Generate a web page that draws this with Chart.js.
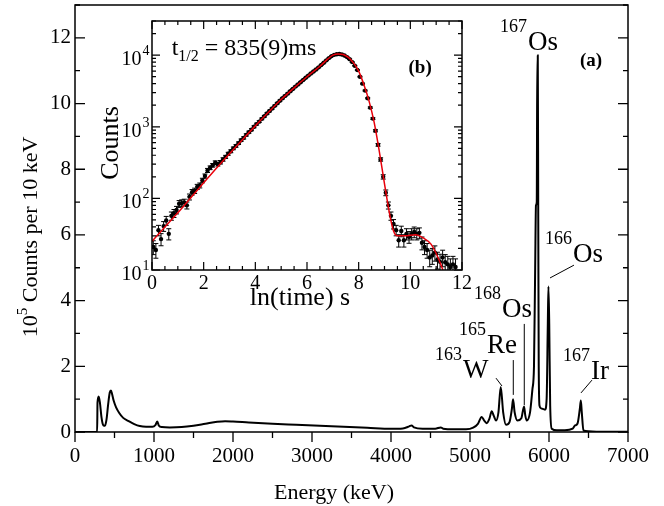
<!DOCTYPE html>
<html>
<head>
<meta charset="utf-8">
<script src="https://cdn.jsdelivr.net/npm/chart.js@4/dist/chart.umd.min.js"></script>
<style>
  html, body { margin: 0; padding: 0; background: #fff; }
  #wrap { position: relative; width: 664px; height: 506px; }
  #wrap canvas { position: absolute; left: 0; top: 0; }
</style>
</head>
<body>
<div id="wrap">
  <canvas id="spectrum" width="664" height="506"></canvas>
  <canvas id="decay" width="664" height="506"></canvas>
</div>
<script>
const SERIF = '"Liberation Serif", "Times New Roman", serif';

// Gamma spectrum: energy (keV) vs counts (1e5 per 10 keV)
const energyKeV = [0, 280, 285, 300, 315, 335, 350, 365, 380, 400, 420, 440, 455, 470, 490, 520, 560, 610, 680, 750,
  820, 900, 980, 1020, 1042, 1060, 1100, 1200, 1350, 1500, 1650, 1800, 1900, 2000, 2200, 2500, 2800, 3100, 3400, 3700,
  4000, 4150, 4230, 4260, 4290, 4400, 4560, 4630, 4660, 4800, 4950, 5040, 5100, 5148, 5180, 5211, 5245, 5275, 5300, 5330,
  5360, 5389, 5420, 5456, 5500, 5530, 5545, 5565, 5600, 5650, 5684, 5700, 5718, 5760, 5790, 5810, 5825, 5835, 5845, 5852,
  5858, 5864, 5870, 5880, 5900, 5950, 5970, 5985, 5993, 6003, 6015, 6035, 6100, 6200, 6300, 6330, 6360, 6390, 6403, 6415,
  6436, 6500, 6600, 7000];
const countsE5 = [0, 0, 0.9, 1.08, 0.9, 0.45, 0.25, 0.19, 0.2, 0.4, 0.85, 1.2, 1.26, 1.15, 0.95, 0.75, 0.58, 0.43, 0.33, 0.24,
  0.18, 0.16, 0.16, 0.22, 0.32, 0.2, 0.15, 0.14, 0.15, 0.19, 0.25, 0.31, 0.33, 0.32, 0.29, 0.25, 0.22, 0.19, 0.16, 0.13,
  0.1, 0.11, 0.17, 0.2, 0.14, 0.1, 0.1, 0.14, 0.1, 0.08, 0.08, 0.13, 0.25, 0.46, 0.35, 0.27, 0.4, 0.63, 0.5, 0.35,
  0.6, 1.37, 0.6, 0.22, 0.3, 0.7, 1.0, 0.6, 0.35, 0.42, 0.78, 0.5, 0.35, 0.6, 1.3, 2.0, 5.0, 6.9, 7.0, 11.46,
  11.46, 6.5, 2.0, 0.8, 0.72, 0.68, 1.0, 3.3, 4.43, 3.3, 0.8, 0.1, 0.05, 0.05, 0.1, 0.2, 0.25, 0.7, 0.96, 0.6,
  0.05, 0.02, 0.01, 0.01];
const energyTicks = [0, 1000, 2000, 3000, 4000, 5000, 6000, 7000];
const countTicks = [0, 2, 4, 6, 8, 10, 12];

// Peak labels: mass number, element, and where the element symbol sits (keV, 1e5 counts)
const peakMass = ['167', '166', '168', '165', '163', '167'];
const peakSymbol = ['Os', 'Os', 'Os', 'Re', 'W', 'Ir'];
const peakLabelE = [5734, 6304, 5405, 5215, 4911, 6532];
const peakLabelV = [11.63, 5.18, 3.50, 2.41, 1.64, 1.61];
// Leader lines from a label down to its peak: [E1, V1, E2, V2]
const leaderLines = [
  [6316, 5.08, 6013, 4.69],
  [5687, 3.29, 5687, 0.82],
  [5548, 2.19, 5548, 1.13],
  [5329, 1.64, 5405, 1.40],
  [6544, 1.58, 6405, 1.19]
];

// Decay curve: ln(time) bins, counts and their errors
const lnTime = [0.05, 0.15, 0.25, 0.35, 0.45, 0.55, 0.65, 0.75, 0.85, 0.95, 1.05, 1.15, 1.25, 1.35, 1.45, 1.55, 1.65, 1.75, 1.85, 1.95,
  2.05, 2.15, 2.25, 2.35, 2.45, 2.55, 2.65, 2.75, 2.85, 2.95, 3.05, 3.15, 3.25, 3.35, 3.45, 3.55, 3.65, 3.75, 3.85, 3.95,
  4.05, 4.15, 4.25, 4.35, 4.45, 4.55, 4.65, 4.75, 4.85, 4.95, 5.05, 5.15, 5.25, 5.35, 5.45, 5.55, 5.65, 5.75, 5.85, 5.95,
  6.05, 6.15, 6.25, 6.35, 6.45, 6.55, 6.65, 6.75, 6.85, 6.95, 7.05, 7.15, 7.25, 7.35, 7.45, 7.55, 7.65, 7.75, 7.85, 7.95,
  8.05, 8.15, 8.25, 8.35, 8.45, 8.55, 8.65, 8.75, 8.85, 8.95, 9.05, 9.15, 9.25, 9.35, 9.45, 9.55, 9.65, 9.75, 9.85, 9.95,
  10.05, 10.15, 10.25, 10.35, 10.45, 10.55, 10.65, 10.75, 10.85, 10.95, 11.05, 11.15, 11.25, 11.35, 11.45, 11.55, 11.65, 11.75];
const decayCounts = [21, 19, 36, 27, 41, 49, 32, 57, 62, 69, 84, 86, 88, 80, 105, 122, 128, 145, 152, 178,
  205, 246, 268, 290, 316, 300, 320, 350, 380, 420, 455, 500, 540, 590, 650, 700, 770, 840, 910, 1000,
  1090, 1180, 1290, 1400, 1530, 1660, 1800, 1960, 2130, 2310, 2500, 2700, 2900, 3130, 3370, 3640, 3900, 4190, 4500, 4830,
  5180, 5540, 5920, 6320, 6760, 7280, 7850, 8470, 9100, 9700, 10100, 10300, 10400, 10200, 9900, 9400, 8800, 8000, 7100, 6200,
  5000, 4000, 3200, 2500, 1850, 1300, 880, 560, 350, 200, 120, 80, 57, 44, 36, 26, 35, 26, 32, 29,
  32, 34, 32, 33, 24, 21, 19, 15, 16, 17.5, 14, 13, 15, 12.8, 12, 11, 12, 11];
const decayErr = [4.6, 4.4, 6, 5.2, 6.4, 7, 5.7, 7.5, 7.9, 8.3, 9.2, 9.3, 9.4, 8.9, 10, 11, 11, 12, 12, 13,
  14, 16, 16, 17, 18, 17, 18, 19, 19, 20, 21, 22, 23, 24, 25, 26, 28, 29, 30, 32,
  33, 34, 36, 37, 39, 41, 42, 44, 46, 48, 50, 52, 54, 56, 58, 60, 62, 65, 67, 69,
  72, 74, 77, 79, 82, 85, 89, 92, 95, 98, 100, 101, 102, 101, 99, 97, 94, 89, 84, 79,
  71, 63, 57, 50, 43, 36, 30, 24, 19, 14, 11, 9, 7.5, 6.6, 6, 5.1, 5.9, 5.1, 5.7, 5.4,
  5.7, 5.8, 5.7, 5.7, 4.9, 4.6, 4.4, 3.9, 4, 4.2, 3.7, 3.6, 3.9, 3.6, 3.5, 3.3, 3.5, 3.3];
// Fitted decay curve
const fitLnTime = [0, 0.5, 1, 1.5, 2, 2.5, 3, 3.5, 4, 4.5, 5, 5.5, 6, 6.5, 6.8, 7.0, 7.2, 7.4, 7.6, 7.8,
  8.0, 8.2, 8.4, 8.6, 8.8, 9.0, 9.2, 9.35, 9.5, 9.8, 10.2, 10.5, 10.8, 11.0, 11.2, 11.35];
const fitCounts = [25, 40, 63, 102, 165, 265, 420, 660, 1030, 1580, 2400, 3500, 5000, 7000, 8800, 10000, 10400, 10200, 9300, 7800,
  6000, 3900, 2300, 1150, 450, 160, 60, 35, 30, 30, 31, 28, 23, 17, 11.5, 8];
const lnTimeTicks = [0, 2, 4, 6, 8, 10, 12];
const decadeTicks = [10, 100, 1000, 10000];

// draws a run of text pieces (font / vertical shift) one after another
function drawRuns(ctx, runs, x, y, align) {
  let total = 0;
  runs.forEach(r => { ctx.font = r.font; r.w = ctx.measureText(r.text).width; total += r.w; });
  let cx = align === 'center' ? x - total / 2 : align === 'right' ? x - total : x;
  ctx.textAlign = 'left';
  ctx.textBaseline = 'alphabetic';
  runs.forEach(r => { ctx.font = r.font; ctx.fillText(r.text, cx, y + (r.dy || 0)); cx += r.w; });
}

function fixedBox(size, horizontal) {
  return scale => {
    if (horizontal) scale.height = size; else scale.width = size;
    scale.paddingTop = scale.paddingBottom = scale.paddingLeft = scale.paddingRight = 0;
  };
}

const plainNumber = v => String(v);

const spectrumDecor = {
  id: 'spectrumDecor',
  afterDraw(chart) {
    const { ctx, chartArea: a, scales: { x, y } } = chart;
    ctx.save();
    ctx.strokeStyle = '#000';
    ctx.fillStyle = '#000';

    // y ticks point inwards on both sides, x ticks hang below the axis
    ctx.lineWidth = 1.3;
    ctx.beginPath();
    for (let v = 0; v <= 13; v++) {
      const py = y.getPixelForValue(v), len = v % 2 ? 5 : 10;
      ctx.moveTo(a.left, py); ctx.lineTo(a.left + len, py);
      ctx.moveTo(a.right, py); ctx.lineTo(a.right - len, py);
    }
    for (let e = 0; e <= 7000; e += 500) {
      const px = x.getPixelForValue(e), len = e % 1000 ? 6 : 10;
      ctx.moveTo(px, a.bottom); ctx.lineTo(px, a.bottom + len);
    }
    ctx.stroke();
    ctx.lineWidth = 1.5;
    ctx.strokeRect(a.left, a.top, a.right - a.left, a.bottom - a.top);

    ctx.lineWidth = 1;
    ctx.beginPath();
    leaderLines.forEach(([e1, v1, e2, v2]) => {
      ctx.moveTo(x.getPixelForValue(e1), y.getPixelForValue(v1));
      ctx.lineTo(x.getPixelForValue(e2), y.getPixelForValue(v2));
    });
    ctx.stroke();

    ctx.textBaseline = 'alphabetic';
    peakSymbol.forEach((sym, i) => {
      const px = x.getPixelForValue(peakLabelE[i]), py = y.getPixelForValue(peakLabelV[i]);
      ctx.textAlign = 'left';
      ctx.font = '27px ' + SERIF;
      ctx.fillText(sym, px, py);
      ctx.textAlign = 'right';
      ctx.font = '18px ' + SERIF;
      ctx.fillText(peakMass[i], px - 1, py - 18);
    });

    ctx.textAlign = 'center';
    ctx.font = 'bold 19px ' + SERIF;
    ctx.fillText('(a)', x.getPixelForValue(6532), y.getPixelForValue(11.14));

    // axis titles
    drawRuns(ctx, [{ text: 'Energy (keV)', font: '22px ' + SERIF }], 334, 499, 'center');
    ctx.translate(37, 237);
    ctx.rotate(-Math.PI / 2);
    drawRuns(ctx, [
      { text: '10', font: '22px ' + SERIF },
      { text: '5', font: '15px ' + SERIF, dy: -10 },
      { text: ' Counts per 10 keV', font: '22px ' + SERIF }
    ], 0, 0, 'center');
    ctx.restore();
  }
};

new Chart(document.getElementById('spectrum'), {
  type: 'line',
  data: {
    datasets: [{
      data: energyKeV.map((e, i) => ({ x: e, y: countsE5[i] })),
      borderColor: '#000',
      borderWidth: 2,
      pointRadius: 0,
      cubicInterpolationMode: 'monotone'
    }]
  },
  options: {
    responsive: false,
    animation: false,
    events: [],
    layout: { padding: { left: 0, top: 5, right: 36, bottom: 0 } },
    plugins: { legend: { display: false }, tooltip: { enabled: false } },
    scales: {
      x: {
        type: 'linear', min: 0, max: 7000,
        afterBuildTicks: s => { s.ticks = energyTicks.map(v => ({ value: v })); },
        afterFit: fixedBox(74, true),
        grid: { display: false, drawTicks: false },
        border: { display: false },
        ticks: { color: '#000', font: { family: SERIF, size: 21 }, padding: 12, maxRotation: 0, callback: plainNumber }
      },
      y: {
        type: 'linear', min: 0, max: 13,
        afterBuildTicks: s => { s.ticks = countTicks.map(v => ({ value: v })); },
        afterFit: fixedBox(75, false),
        grid: { display: false, drawTicks: false },
        border: { display: false },
        ticks: { color: '#000', font: { family: SERIF, size: 21 }, padding: 4, callback: plainNumber }
      }
    }
  },
  plugins: [spectrumDecor]
});

const decayDecor = {
  id: 'decayDecor',
  beforeDraw(chart) {
    const { ctx, chartArea: a } = chart;
    ctx.save();
    ctx.fillStyle = '#fff';
    ctx.fillRect(a.left, a.top, a.right - a.left, a.bottom - a.top);
    ctx.restore();
  },
  beforeDatasetsDraw(chart) {
    const { ctx, chartArea: a, scales: { x, y } } = chart;
    ctx.save();
    ctx.beginPath();
    ctx.rect(a.left, a.top, a.right - a.left, a.bottom - a.top);
    ctx.clip();
    ctx.strokeStyle = '#000';
    ctx.lineWidth = 1;
    ctx.beginPath();
    lnTime.forEach((t, i) => {
      const px = x.getPixelForValue(t);
      const hi = y.getPixelForValue(decayCounts[i] + decayErr[i]);
      const lo = y.getPixelForValue(Math.max(decayCounts[i] - decayErr[i], 1));
      ctx.moveTo(px, hi); ctx.lineTo(px, lo);
      ctx.moveTo(px - 2.5, hi); ctx.lineTo(px + 2.5, hi);
      ctx.moveTo(px - 2.5, lo); ctx.lineTo(px + 2.5, lo);
    });
    ctx.stroke();
    ctx.restore();
  },
  afterDraw(chart) {
    const { ctx, chartArea: a, scales: { x, y } } = chart;
    ctx.save();
    ctx.strokeStyle = '#000';
    ctx.fillStyle = '#000';

    ctx.lineWidth = 1.2;
    ctx.beginPath();
    for (let t = 0; t <= 12; t += 0.5) {
      const px = x.getPixelForValue(t), len = t % 2 ? 4 : 8;
      ctx.moveTo(px, a.bottom); ctx.lineTo(px, a.bottom - len);
      ctx.moveTo(px, a.top); ctx.lineTo(px, a.top + len);
    }
    decadeTicks.forEach(d => {
      for (let m = 1; m <= 9; m++) {
        const v = d * m;
        if (v > y.max) break;
        const py = y.getPixelForValue(v), len = m === 1 ? 8 : 4;
        ctx.moveTo(a.left, py); ctx.lineTo(a.left + len, py);
        ctx.moveTo(a.right, py); ctx.lineTo(a.right - len, py);
      }
    });
    ctx.stroke();
    ctx.lineWidth = 1.5;
    ctx.strokeRect(a.left, a.top, a.right - a.left, a.bottom - a.top);

    // decade labels 10^n
    decadeTicks.forEach((d, i) => {
      const py = y.getPixelForValue(d);
      ctx.textBaseline = 'alphabetic';
      ctx.textAlign = 'right';
      ctx.font = '20px ' + SERIF;
      ctx.fillText('10', a.left - 10.5, py + 10);
      ctx.textAlign = 'left';
      ctx.font = '14px ' + SERIF;
      ctx.fillText(String(i + 1), a.left - 9.5, py);
    });

    drawRuns(ctx, [
      { text: 't', font: '24px ' + SERIF },
      { text: '1/2', font: '16px ' + SERIF, dy: 6 },
      { text: ' = 835(9)ms', font: '24px ' + SERIF }
    ], x.getPixelForValue(0.76), y.getPixelForValue(9900), 'left');
    drawRuns(ctx, [{ text: '(b)', font: 'bold 19px ' + SERIF }], x.getPixelForValue(10.38), y.getPixelForValue(5550), 'center');

    drawRuns(ctx, [{ text: 'ln(time) s', font: '26px ' + SERIF }], 300, 305, 'center');
    ctx.translate(118, 143);
    ctx.rotate(-Math.PI / 2);
    drawRuns(ctx, [{ text: 'Counts', font: '26px ' + SERIF }], 0, 0, 'center');
    ctx.restore();
  }
};

new Chart(document.getElementById('decay'), {
  type: 'line',
  data: {
    datasets: [
      {
        data: fitLnTime.map((t, i) => ({ x: t, y: fitCounts[i] })),
        borderColor: '#e8000b',
        borderWidth: 1.5,
        pointRadius: 0,
        cubicInterpolationMode: 'monotone',
        order: 0
      },
      {
        data: lnTime.map((t, i) => ({ x: t, y: decayCounts[i] })),
        showLine: false,
        pointRadius: 2.2,
        pointBackgroundColor: '#000',
        pointBorderColor: '#000',
        pointBorderWidth: 0,
        order: 1
      }
    ]
  },
  options: {
    responsive: false,
    animation: false,
    events: [],
    layout: { padding: { left: 0, top: 21, right: 202, bottom: 0 } },
    plugins: { legend: { display: false }, tooltip: { enabled: false } },
    scales: {
      x: {
        type: 'linear', min: 0, max: 12,
        afterBuildTicks: s => { s.ticks = lnTimeTicks.map(v => ({ value: v })); },
        afterFit: fixedBox(236, true),
        grid: { display: false, drawTicks: false },
        border: { display: false },
        ticks: { color: '#000', font: { family: SERIF, size: 20 }, padding: 2, maxRotation: 0, callback: plainNumber }
      },
      y: {
        type: 'logarithmic', min: 10, max: 30000,
        afterFit: fixedBox(152, false),
        grid: { display: false, drawTicks: false },
        border: { display: false },
        ticks: { display: false }
      }
    }
  },
  plugins: [decayDecor]
});
</script>
</body>
</html>
